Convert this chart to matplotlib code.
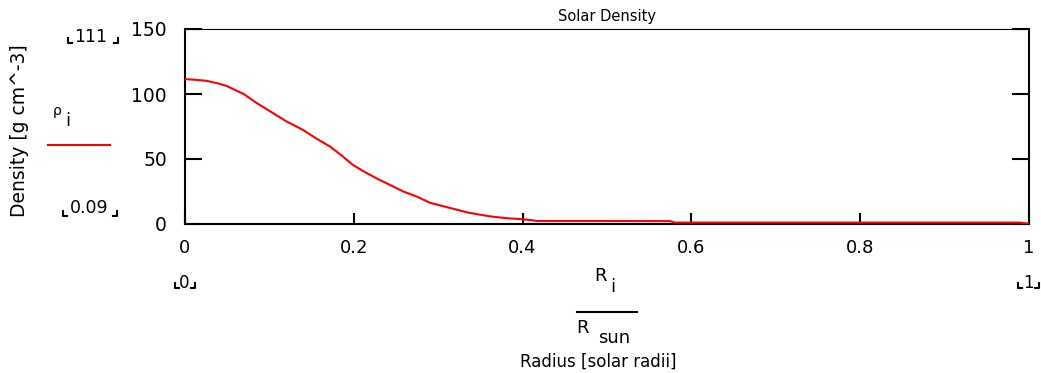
import matplotlib
matplotlib.use("Agg")
import matplotlib.pyplot as plt
from matplotlib.lines import Line2D

# ---- data ----
radius = [0.0, 0.01, 0.025, 0.04, 0.05, 0.07, 0.085, 0.105, 0.12, 0.14, 0.155,
          0.172, 0.185, 0.199, 0.213, 0.227, 0.243, 0.259, 0.275, 0.29, 0.31,
          0.336, 0.36, 0.38, 0.397, 0.41, 0.417, 0.5, 0.575, 0.58, 0.7, 0.85,
          0.99, 1.0]
density = [111.5, 111.0, 110.2, 108.0, 106.0, 99.8, 93.0, 85.0, 79.0, 72.3, 66.0,
           59.5, 53.0, 45.4, 40.0, 35.1, 30.0, 24.9, 21.0, 16.4, 13.0,
           8.7, 6.0, 4.5, 3.8, 3.0, 2.3, 2.3, 2.2, 1.1, 1.1, 1.1,
           1.1, 0.09]
x_ticks = [0, 0.2, 0.4, 0.6, 0.8, 1]
x_tick_labels = ["0", "0.2", "0.4", "0.6", "0.8", "1"]
y_ticks = [0, 50, 100, 150]
y_tick_labels = ["0", "50", "100", "150"]

W, H = 1041, 373
plt.rcParams['font.family'] = ['DejaVu Sans']
fig = plt.figure(figsize=(W / 100, H / 100), dpi=100)

L, R, T, B = 185, 1029, 29, 224
ax = fig.add_axes([L / W, 1 - B / H, (R - L) / W, (B - T) / H])
ax.plot(radius, density, color='#ff0000', lw=1.5, zorder=3)
ax.set_xlim(0, 1)
ax.set_ylim(0, 150)

ax.set_xticks(x_ticks)
ax.set_xticklabels(x_tick_labels)
ax.set_yticks(y_ticks)
ax.set_yticklabels(y_tick_labels)
ax.tick_params(axis='x', direction='in', length=8, width=1.5, pad=11,
               labelsize=13, top=False, colors='black')
ax.tick_params(axis='y', direction='in', length=12, width=1.5, pad=13,
               labelsize=13.5, right=True, colors='black')
for side in ['left', 'right', 'bottom']:
    ax.spines[side].set_linewidth(1.5)
ax.spines['top'].set_linewidth(0.8)

def fx(x):
    return x / W

def fy(y):
    return 1 - y / H

def txt(x, y, s, size=12, ha='center', va='center', **kw):
    fig.text(fx(x), fy(y), s, fontsize=size, ha=ha, va=va, **kw)

def bracket(x0, x1, yb, h=5, w=4):
    for pts in ([(x0, yb - h), (x0, yb), (x0 + w, yb)],
                [(x1 - w, yb), (x1, yb), (x1, yb - h)]):
        xs = [fx(p[0]) for p in pts]
        ys = [fy(p[1]) for p in pts]
        fig.add_artist(Line2D(xs, ys, color='black', lw=1.5,
                              transform=fig.transFigure))

# title
txt(607, 16, "Solar Density", size=10.5)

# y label
txt(20, 131, "Density [g cm^-3]", size=13.5, rotation=90)

# legend-like Mathcad labels
txt(57, 111, "ρ", size=10)
txt(68, 121, "i", size=13)
fig.add_artist(Line2D([fx(48), fx(110)], [fy(145), fy(145)], color='#ff0000',
                      lw=1.5, transform=fig.transFigure))

# y range markers
txt(91, 37, "111", size=12.5)
bracket(68, 118, 43)
txt(89, 208, "0.09", size=12.5)
bracket(63, 117, 216)

# x range markers
txt(184, 283, "0", size=12)
bracket(175, 195, 288)
txt(1028, 283, "1", size=12)
bracket(1018, 1039, 288)

# x axis label (fraction)
txt(601, 276, "R", size=13)
txt(613, 287, "i", size=13)
fig.add_artist(Line2D([fx(577), fx(637)], [fy(312), fy(312)], color='black',
                      lw=1.5, transform=fig.transFigure))
txt(583, 328, "R", size=13)
txt(614, 338, "sun", size=13)
txt(598, 362, "Radius [solar radii]", size=12)

fig.savefig("out.png", dpi=100)
